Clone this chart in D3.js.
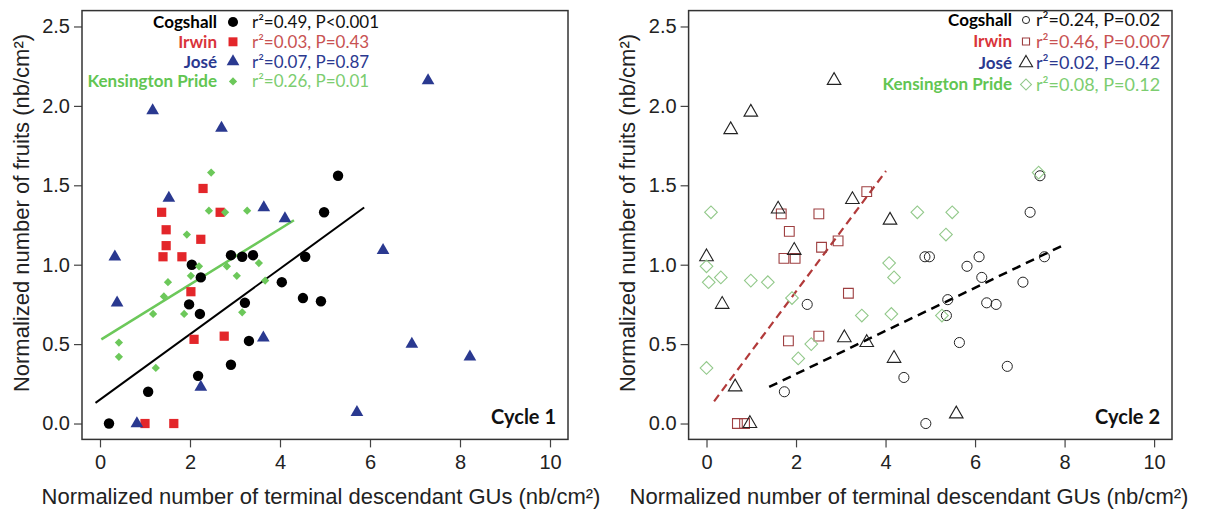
<!DOCTYPE html>
<html><head><meta charset="utf-8">
<script src="https://cdn.jsdelivr.net/npm/d3@7/dist/d3.min.js"></script>
<style>body{margin:0;background:#fff}svg{display:block}</style>
</head><body><svg id="c" width="1212" height="513"></svg>
<script>
const cultivars = ["Cogshall", "Irwin", "José", "Kensington Pride"];
const stats1 = ["r²=0.49, P<0.001", "r²=0.03, P=0.43", "r²=0.07, P=0.87", "r²=0.26, P=0.01"];
const stats2 = ["r²=0.24, P=0.02", "r²=0.46, P=0.007", "r²=0.02, P=0.42", "r²=0.08, P=0.12"];
const cycles = ["Cycle 1", "Cycle 2"];
const xTicks = [0, 2, 4, 6, 8, 10];
const yTicks = [0, 0.5, 1, 1.5, 2, 2.5];

// Cycle 1
const c1Cogshall = [[0.2,0.0],[1.07,0.2],[1.98,0.75],[2.22,0.69],[2.04,1.0],[2.24,0.92],[2.18,0.3],[2.91,0.37],[2.91,1.06],[3.16,1.05],[3.4,1.06],[3.22,0.76],[3.31,0.52],[5.29,1.56],[4.98,1.33],[4.56,1.05],[4.04,0.89],[4.51,0.79],[4.91,0.77]];
const c1Irwin = [[2.29,1.48],[1.37,1.33],[2.67,1.33],[1.47,1.22],[2.24,1.16],[1.47,1.12],[1.4,1.05],[1.82,1.05],[2.02,0.83],[2.09,0.53],[2.76,0.55],[1.0,0.0],[1.64,0.0]];
const c1Jose = [[1.53,1.42],[0.33,1.05],[0.38,0.76],[2.24,0.23],[0.82,0.0],[1.17,1.97],[2.7,1.86],[3.64,1.36],[4.11,1.29],[6.29,1.09],[3.63,0.54],[6.93,0.5],[5.71,0.07],[7.29,2.16],[8.22,0.42]];
const c1Kp = [[2.47,1.58],[2.42,1.34],[2.78,1.33],[3.27,1.34],[1.93,1.19],[2.2,0.99],[2.82,0.99],[3.04,0.93],[2.02,0.93],[1.51,0.89],[1.42,0.8],[1.87,0.69],[1.18,0.69],[3.16,0.7],[0.42,0.51],[0.42,0.42],[1.24,0.35],[3.53,1.01],[3.67,0.9]];
const c1FitCogshall = [[-0.1,0.13],[5.87,1.36]];
const c1FitKp = [[0.03,0.53],[4.31,1.28]];

// Cycle 2
const c2Cogshall = [[7.45,1.56],[7.23,1.33],[4.88,1.05],[4.98,1.05],[6.09,1.05],[5.82,0.99],[7.55,1.05],[6.15,0.92],[7.07,0.89],[5.39,0.78],[6.26,0.76],[6.47,0.75],[5.36,0.68],[5.65,0.51],[6.72,0.36],[4.41,0.29],[4.9,0.0],[2.25,0.75],[1.74,0.2]];
const c2Irwin = [[1.67,1.32],[2.51,1.32],[1.85,1.21],[2.57,1.11],[2.94,1.15],[1.73,1.04],[1.98,1.04],[3.17,0.82],[1.83,0.52],[2.51,0.55],[0.69,0.0],[0.85,0.0],[3.58,1.46]];
const c2Jose = [[2.85,2.16],[0.99,1.96],[0.54,1.85],[3.26,1.41],[1.6,1.35],[4.1,1.28],[0.0,1.05],[0.35,0.75],[1.96,1.09],[3.08,0.54],[0.64,0.23],[0.97,0.0],[3.58,0.51],[4.19,0.41],[5.58,0.06]];
const c2Kp = [[0.1,1.33],[0.0,0.99],[0.05,0.89],[0.32,0.92],[0.99,0.9],[1.37,0.89],[1.91,0.79],[2.05,0.41],[2.34,0.5],[3.47,0.68],[0.0,0.35],[4.71,1.33],[5.49,1.33],[5.35,1.19],[4.08,1.01],[4.19,0.92],[4.13,0.69],[5.26,0.68],[7.42,1.58]];
const c2FitIrwin = [[0.17,0.14],[4.01,1.59]];
const c2FitCogshall = [[1.4,0.23],[7.95,1.12]];

const svg = d3.select("#c");
const TICKF = "'Liberation Sans', Arial, sans-serif";
const LEGF = "Lato, 'Open Sans', sans-serif";

function panel(cfg) {
  const x = d3.scaleLinear().domain([-0.4, 10.4]).range([cfg.left, cfg.right]);
  const y = d3.scaleLinear().domain([-0.1, 2.6]).range([439.4, 10.6]);
  const g = svg.append("g");

  const ax = g.append("g").attr("transform", "translate(0,439.4)")
    .call(d3.axisBottom(x).tickValues(xTicks).tickSize(8).tickPadding(7).tickFormat(d3.format("d")));
  const ay = g.append("g").attr("transform", `translate(${cfg.left},0)`)
    .call(d3.axisLeft(y).tickValues(yTicks).tickSize(8).tickPadding(4).tickFormat(d3.format(".1f")));
  [ax, ay].forEach(a => {
    a.attr("font-family", TICKF);
    a.select(".domain").remove();
    a.selectAll("line").attr("stroke", "#444").attr("stroke-width", 1.2);
    a.selectAll("text").style("font-family", TICKF).attr("font-size", 20).attr("fill", "#222");
  });
  g.append("rect").attr("x", cfg.left).attr("y", 10.6)
    .attr("width", cfg.right - cfg.left).attr("height", 439.4 - 10.6)
    .attr("fill", "none").attr("stroke", "#333").attr("stroke-width", 1.5);

  g.append("text").attr("x", cfg.xtx).attr("y", 504)
    .attr("text-anchor", "middle").style("font-family", TICKF).attr("font-size", 22).attr("fill", "#222")
    .text("Normalized number of terminal descendant GUs (nb/cm²)");
  g.append("text").attr("transform", `translate(${cfg.ytx},${213}) rotate(-90)`)
    .attr("text-anchor", "middle").style("font-family", TICKF).attr("font-size", 22).attr("fill", "#222")
    .text("Normalized number of fruits (nb/cm²)");

  g.append("text").attr("x", cfg.right - 12).attr("y", 424)
    .attr("text-anchor", "end").style("font-family", LEGF).attr("font-weight", "bold")
    .attr("font-size", 20).attr("fill", "#111").text(cfg.cycle);

  const line = d3.line().x(d => x(d[0])).y(d => y(d[1]));
  cfg.fits.forEach(f => {
    g.append("path").datum(f.data).attr("d", line).attr("fill", "none")
      .attr("stroke", f.color).attr("stroke-width", f.w)
      .attr("stroke-dasharray", f.dash || null);
  });

  cfg.series.forEach(s => {
    g.append("g").selectAll("path").data(s.data).join("path")
      .attr("d", d3.symbol().type(s.type).size(s.size))
      .attr("transform", d => `translate(${x(d[0])},${y(d[1])}) rotate(${s.rot || 0})`)
      .attr("fill", s.fill).attr("stroke", s.stroke).attr("stroke-width", s.sw || 0);
  });

  cfg.series.forEach((s, i) => {
    const yy = cfg.legY + i * cfg.legDy;
    g.append("text").attr("x", cfg.legX).attr("y", yy).attr("dy", "0.35em")
      .attr("text-anchor", "end").style("font-family", LEGF).attr("font-weight", "bold")
      .attr("font-size", 17).attr("fill", s.nameColor).text(cultivars[i]);
    g.append("path").attr("d", d3.symbol().type(s.type).size(s.legSize))
      .attr("transform", `translate(${cfg.legX + cfg.legMk},${yy}) rotate(${s.rot || 0})`)
      .attr("fill", s.fill).attr("stroke", s.stroke).attr("stroke-width", s.sw || 0);
    g.append("text").attr("x", cfg.legX + cfg.legTx).attr("y", yy).attr("dy", "0.35em")
      .style("font-family", LEGF).attr("font-size", cfg.statSize).attr("fill", s.statColor).text(cfg.stats[i]);
  });
}

panel({
  left: 82, right: 568, xtx: 321, ytx: 29, cycle: cycles[0], stats: stats1, statSize: 17,
  legX: 217, legY: 22, legDy: 19.8, legMk: 16, legTx: 35,
  fits: [
    {data: c1FitCogshall, color: "#000", w: 2},
    {data: c1FitKp, color: "#6cc85a", w: 2.5}
  ],
  series: [
    {data: c1Cogshall, type: d3.symbolCircle, size: 85, legSize: 80, fill: "#000", stroke: "none", nameColor: "#000", statColor: "#111"},
    {data: c1Irwin, type: d3.symbolSquare, size: 85, legSize: 80, fill: "#e3262a", stroke: "none", nameColor: "#d9343a", statColor: "#c85252"},
    {data: c1Jose, type: d3.symbolTriangle, size: 70, legSize: 70, fill: "#2a3990", stroke: "none", nameColor: "#2b3990", statColor: "#2b3990"},
    {data: c1Kp, type: d3.symbolSquare, size: 34, legSize: 34, rot: 45, fill: "#6cc85a", stroke: "none", nameColor: "#62c552", statColor: "#7ccd70"}
  ]
});

panel({
  left: 688.6, right: 1172, xtx: 909, ytx: 635, cycle: cycles[1], stats: stats2, statSize: 18,
  legX: 1012, legY: 20, legDy: 21.5, legMk: 14, legTx: 24,
  fits: [
    {data: c2FitIrwin, color: "#b23a3a", w: 2.2, dash: "8,5"},
    {data: c2FitCogshall, color: "#000", w: 2.5, dash: "9,6"}
  ],
  series: [
    {data: c2Cogshall, type: d3.symbolCircle, size: 80, legSize: 40, fill: "none", stroke: "#222", sw: 1, nameColor: "#000", statColor: "#111"},
    {data: c2Irwin, type: d3.symbolSquare, size: 95, legSize: 50, fill: "none", stroke: "#9e3f40", sw: 1.1, nameColor: "#d9343a", statColor: "#c85252"},
    {data: c2Jose, type: d3.symbolTriangle, size: 80, legSize: 75, fill: "none", stroke: "#222", sw: 1.1, nameColor: "#2b3990", statColor: "#2b3990"},
    {data: c2Kp, type: d3.symbolSquare, size: 80, legSize: 60, rot: 45, fill: "none", stroke: "#93c98b", sw: 1.1, nameColor: "#62c552", statColor: "#7ccd70"}
  ]
});
</script></body></html>
